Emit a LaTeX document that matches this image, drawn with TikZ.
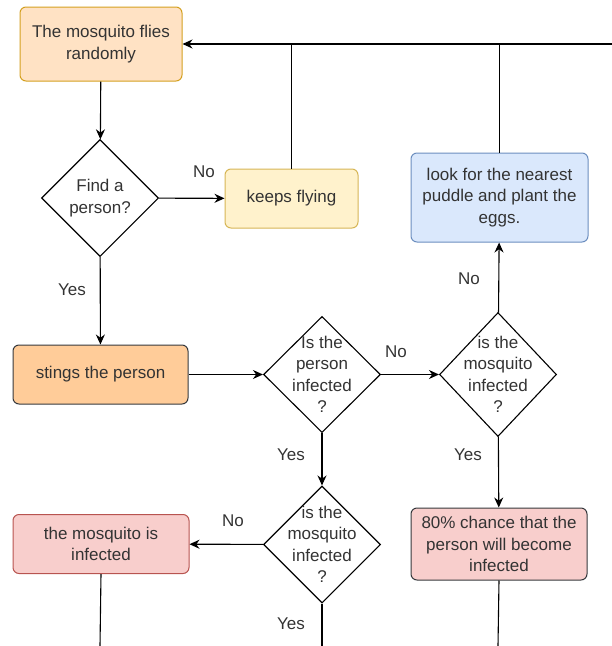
\documentclass[tikz,border=0pt]{standalone}
\usepackage{fontspec}
\setmainfont{Liberation Sans}
\usetikzlibrary{arrows.meta,shapes.geometric}

\definecolor{peach}{HTML}{FFE2C4}
\definecolor{peachline}{HTML}{D4A020}
\definecolor{cream}{HTML}{FFF2CC}
\definecolor{creamline}{HTML}{D6B656}
\definecolor{orangefill}{HTML}{FFCC99}
\definecolor{darkline}{HTML}{36393D}
\definecolor{bluefill}{HTML}{DAE8FC}
\definecolor{blueline}{HTML}{6C8EBF}
\definecolor{pinkfill}{HTML}{F8CECC}
\definecolor{pinkline}{HTML}{B85450}
\definecolor{txt}{HTML}{333333}

\begin{document}
\begin{tikzpicture}[x=1pt,y=-1pt,
  font=\fontsize{17}{21.5}\selectfont, text=txt,
  every path/.style={line width=1.1pt},
  arr/.style={-{Stealth[length=10pt,width=9pt]}},
  box/.style={rectangle,rounded corners=6pt,line width=1pt,align=center,inner sep=0pt},
  decision/.style={diamond,draw=black,fill=white,line width=1.1pt,inner sep=0pt,minimum width=117pt,minimum height=117pt},
  lbl/.style={inner sep=0pt}]

\useasboundingbox (0,0) rectangle (612,646);

% boxes
\node[box,draw=peachline,fill=peach,minimum width=162pt,minimum height=74pt] (fly) at (101,44) {The mosquito flies\\randomly};
\node[decision,label={[align=center]center:{Find a\\person?}}] (find) at (100,198) {};
\node[box,draw=creamline,fill=cream,minimum width=133pt,minimum height=59pt] (keep) at (291.5,198.5) {keeps flying};
\node[box,draw=darkline,fill=orangefill,minimum width=175pt,minimum height=59pt] (sting) at (100.5,374.5) {stings the person};
\node[decision,minimum height=116pt,label={[align=center]center:{Is the\\person\\infected\\?}}] (pinf) at (322,374.5) {};
\node[decision,minimum height=124pt,label={[align=center]center:{is the\\mosquito\\infected\\?}}] (minf) at (498,374.5) {};
\node[box,draw=blueline,fill=bluefill,minimum width=177pt,minimum height=89pt] (puddle) at (499.5,197.5) {look for the nearest\\puddle and plant the\\eggs.};
\node[box,draw=darkline,fill=pinkfill,minimum width=176pt,minimum height=72pt] (chance) at (499,544) {80\% chance that the\\person will become\\infected};
\node[decision,label={[align=center]center:{is the\\mosquito\\infected\\?}}] (minfb) at (322,544.5) {};
\node[box,draw=pinkline,fill=pinkfill,minimum width=176pt,minimum height=59pt] (mosq) at (101,544) {the mosquito is\\infected};

% free ends
\coordinate (topright) at (612,44);
\coordinate (endA) at (100,646);
\coordinate (endB) at (322,646);
\coordinate (endC) at (498,646);

% connectors
\draw[arr] (fly) -- (find);
\draw[arr] (find) -- (keep);
\draw[arr] (find) -- (sting);
\draw[arr] (sting) -- (pinf);
\draw[arr] (pinf) -- (minf);
\draw[arr] (minf) -- (puddle);
\draw[arr] (minf) -- (chance);
\draw[arr] (pinf) -- (minfb);
\draw[arr] (minfb) -- (mosq);
\draw[arr] (topright) -- (fly.east |- topright);
\draw (keep.north) -- (keep.north |- topright);
\draw (puddle.north) -- (puddle.north |- topright);
\draw (mosq.south) -- (endA);
\draw (minfb.south) -- (endB);
\draw (chance.south) -- (endC);

% labels
\node[lbl] (no1) at (204,172) {No};
\node[lbl] (yes1) at (72,290) {Yes};
\node[lbl] (no2) at (396,352) {No};
\node[lbl] (no3) at (469,279) {No};
\node[lbl] (yes2) at (291,455) {Yes};
\node[lbl] (yes3) at (468,455) {Yes};
\node[lbl] (no4) at (233,521) {No};
\node[lbl] (yes4) at (291,624) {Yes};
\end{tikzpicture}
\end{document}
